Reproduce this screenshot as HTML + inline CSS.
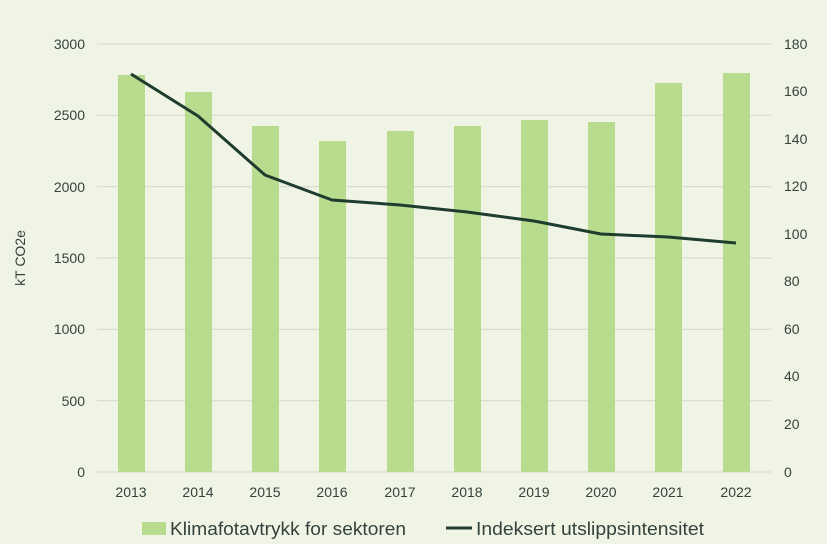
<!DOCTYPE html>
<html><head><style>body{margin:0;background:#f0f4e5;}svg{display:block}text{font-family:"Liberation Sans",sans-serif;fill:#33423c}</style></head><body>
<svg width="827" height="544" viewBox="0 0 827 544">
<rect width="827" height="544" fill="#f0f4e5"/>
<g stroke="#d6d9d2" stroke-width="1.2">
<line x1="97" x2="771" y1="44" y2="44"/><line x1="97" x2="771" y1="115.3" y2="115.3"/><line x1="97" x2="771" y1="186.7" y2="186.7"/><line x1="97" x2="771" y1="258" y2="258"/><line x1="97" x2="771" y1="329.3" y2="329.3"/><line x1="97" x2="771" y1="400.7" y2="400.7"/><line x1="97" x2="771" y1="472" y2="472"/>
</g>
<g fill="#b8db8e">
<rect x="118" y="75" width="27" height="397"/>
<rect x="185" y="92" width="27" height="380"/>
<rect x="252" y="126" width="27" height="346"/>
<rect x="319" y="141" width="27" height="331"/>
<rect x="387" y="131" width="27" height="341"/>
<rect x="454" y="126" width="27" height="346"/>
<rect x="521" y="120" width="27" height="352"/>
<rect x="588" y="122" width="27" height="350"/>
<rect x="655" y="83" width="27" height="389"/>
<rect x="723" y="73" width="27" height="399"/>
</g>
<polyline fill="none" stroke="#1f3d2e" stroke-width="3" stroke-linejoin="round" points="131,74 198,116 265,175 332,200 400,205 467,212 534,221 601,234 668,237 736,243"/>
<g font-size="14" text-anchor="end">
<text x="85" y="49">3000</text><text x="85" y="120">2500</text><text x="85" y="192">2000</text><text x="85" y="263">1500</text><text x="85" y="334">1000</text><text x="85" y="406">500</text><text x="85" y="477">0</text>
</g>
<g font-size="14" text-anchor="start">
<text x="784" y="49">180</text><text x="784" y="96">160</text><text x="784" y="144">140</text><text x="784" y="191">120</text><text x="784" y="239">100</text><text x="784" y="286">80</text><text x="784" y="334">60</text><text x="784" y="381">40</text><text x="784" y="429">20</text><text x="784" y="477">0</text>
</g>
<g font-size="14" text-anchor="middle">
<text x="131" y="497">2013</text><text x="198" y="497">2014</text><text x="265" y="497">2015</text><text x="332" y="497">2016</text><text x="400" y="497">2017</text><text x="467" y="497">2018</text><text x="534" y="497">2019</text><text x="601" y="497">2020</text><text x="668" y="497">2021</text><text x="736" y="497">2022</text>
</g>
<text font-size="14" text-anchor="middle" transform="translate(25,258) rotate(-90)">kT CO2e</text>
<rect x="142" y="522" width="24" height="13" fill="#b8db8e"/>
<text x="170" y="535" font-size="18" textLength="236" lengthAdjust="spacingAndGlyphs">Klimafotavtrykk for sektoren</text>
<line x1="446" x2="472" y1="528" y2="528" stroke="#1f3d2e" stroke-width="3"/>
<text x="476" y="535" font-size="18" textLength="228" lengthAdjust="spacingAndGlyphs">Indeksert utslippsintensitet</text>
</svg>
</body></html>
